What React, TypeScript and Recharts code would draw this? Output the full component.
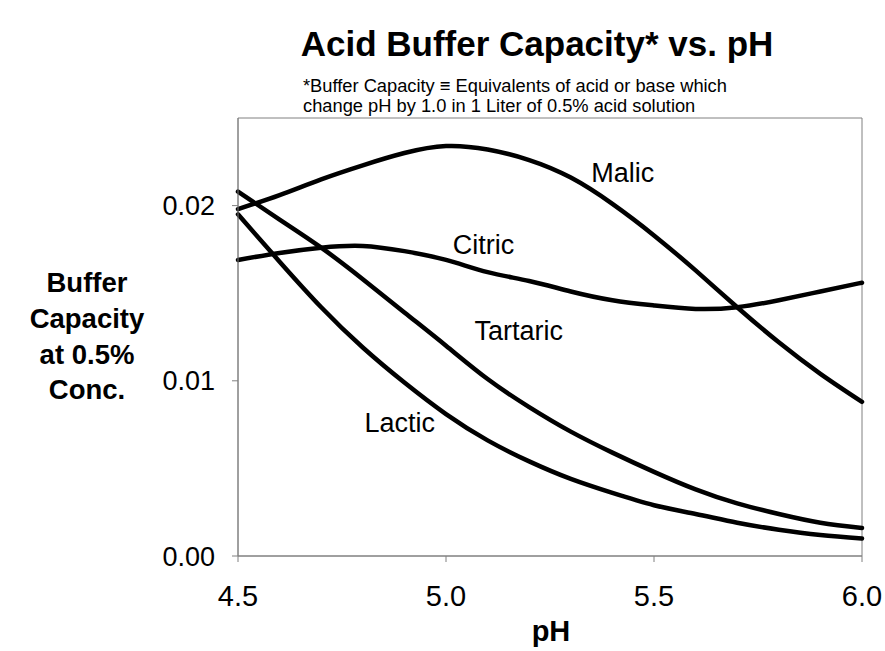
import { LineChart, Line, XAxis, YAxis, ReferenceArea, ReferenceDot } from "recharts";

const phValues = [4.5, 4.6, 4.7, 4.8, 4.9, 5.0, 5.1, 5.2, 5.3, 5.4, 5.5, 5.6, 5.7, 5.8, 5.9, 6.0];
const malic = [0.0198, 0.0206, 0.0215, 0.0223, 0.023, 0.0234, 0.0232, 0.0226, 0.0216, 0.0201, 0.0183, 0.0163, 0.0142, 0.0122, 0.0104, 0.0088];
const citric = [0.0169, 0.0173, 0.0176, 0.0177, 0.0174, 0.0169, 0.0162, 0.0157, 0.0151, 0.0146, 0.0143, 0.0141, 0.0142, 0.0146, 0.0151, 0.0156];
const tartaric = [0.0208, 0.0192, 0.0176, 0.0158, 0.0139, 0.012, 0.0101, 0.0085, 0.0071, 0.0059, 0.0048, 0.0038, 0.003, 0.0024, 0.0019, 0.0016];
const lactic = [0.0195, 0.0168, 0.0142, 0.0119, 0.0099, 0.0081, 0.0066, 0.0054, 0.0044, 0.0036, 0.0029, 0.0024, 0.0019, 0.0015, 0.0012, 0.001];

const xTicks = [4.5, 5.0, 5.5, 6.0];
const yTicks = [0, 0.01, 0.02];

const curveLabels = [
  { name: "Malic", ph: 5.425, value: 0.0219 },
  { name: "Citric", ph: 5.09, value: 0.0178 },
  { name: "Tartaric", ph: 5.175, value: 0.0129 },
  { name: "Lactic", ph: 4.889, value: 0.0076 },
];

const data = phValues.map((ph, i) => ({
  ph,
  malic: malic[i],
  citric: citric[i],
  tartaric: tartaric[i],
  lactic: lactic[i],
}));

const FONT = "'Liberation Sans', Arial, sans-serif";
const AXIS = "#808080";

export default function App() {
  const lineProps = {
    type: "natural" as const,
    stroke: "#000",
    strokeWidth: 4.5,
    strokeLinecap: "round" as const,
    dot: false,
    activeDot: false,
    isAnimationActive: false,
  };

  return (
    <div style={{ position: "absolute", left: 0, top: 0, width: 885, height: 651, background: "#fff", fontFamily: FONT }}>
      <LineChart
        width={885}
        height={651}
        data={data}
        margin={{ top: 118, right: 23, bottom: 35, left: 0 }}
      >
        <XAxis
          dataKey="ph"
          type="number"
          domain={[4.5, 6]}
          ticks={xTicks}
          tickFormatter={(v: number) => v.toFixed(1)}
          stroke={AXIS}
          tickSize={6}
          tickMargin={23}
          height={60}
          tick={{ fill: "#000", fontSize: 29, fontFamily: FONT }}
        />
        <YAxis
          type="number"
          domain={[0, 0.025]}
          ticks={yTicks}
          tickFormatter={(v: number) => v.toFixed(2)}
          stroke={AXIS}
          tickSize={6}
          tickMargin={17}
          width={238}
          tick={{ fill: "#000", fontSize: 27, fontFamily: FONT }}
        />
        <ReferenceArea x1={4.5} x2={6} y1={0} y2={0.025} fill="none" stroke={AXIS} strokeWidth={1} />
        <Line dataKey="malic" {...lineProps} />
        <Line dataKey="citric" {...lineProps} />
        <Line dataKey="tartaric" {...lineProps} />
        <Line dataKey="lactic" {...lineProps} />
        {curveLabels.map((l) => (
          <ReferenceDot
            key={l.name}
            x={l.ph}
            y={l.value}
            r={0}
            stroke="none"
            fill="none"
            label={{ value: l.name, position: "center", fontSize: 27, fill: "#000", fontFamily: FONT }}
          />
        ))}
      </LineChart>
      <svg width={885} height={651} style={{ position: "absolute", left: 0, top: 0, pointerEvents: "none" }}>
        <text x={537} y={56} textAnchor="middle" fontSize={35} fontWeight="bold" fontFamily={FONT}>
          Acid Buffer Capacity* vs. pH
        </text>
        <text x={303} y={92} fontSize={18.3} fontFamily={FONT}>
          *Buffer Capacity ≡ Equivalents of acid or base which
        </text>
        <text x={303} y={112} fontSize={18.3} fontFamily={FONT}>
          change pH by 1.0 in 1 Liter of 0.5% acid solution
        </text>
        <text textAnchor="middle" fontSize={27.5} fontWeight="bold" fontFamily={FONT}>
          <tspan x={87} y={292}>Buffer</tspan>
          <tspan x={87} y={328}>Capacity</tspan>
          <tspan x={87} y={364}>at 0.5%</tspan>
          <tspan x={87} y={399}>Conc.</tspan>
        </text>
        <text x={551} y={641} textAnchor="middle" fontSize={29} fontWeight="bold" fontFamily={FONT}>
          pH
        </text>
      </svg>
    </div>
  );
}
